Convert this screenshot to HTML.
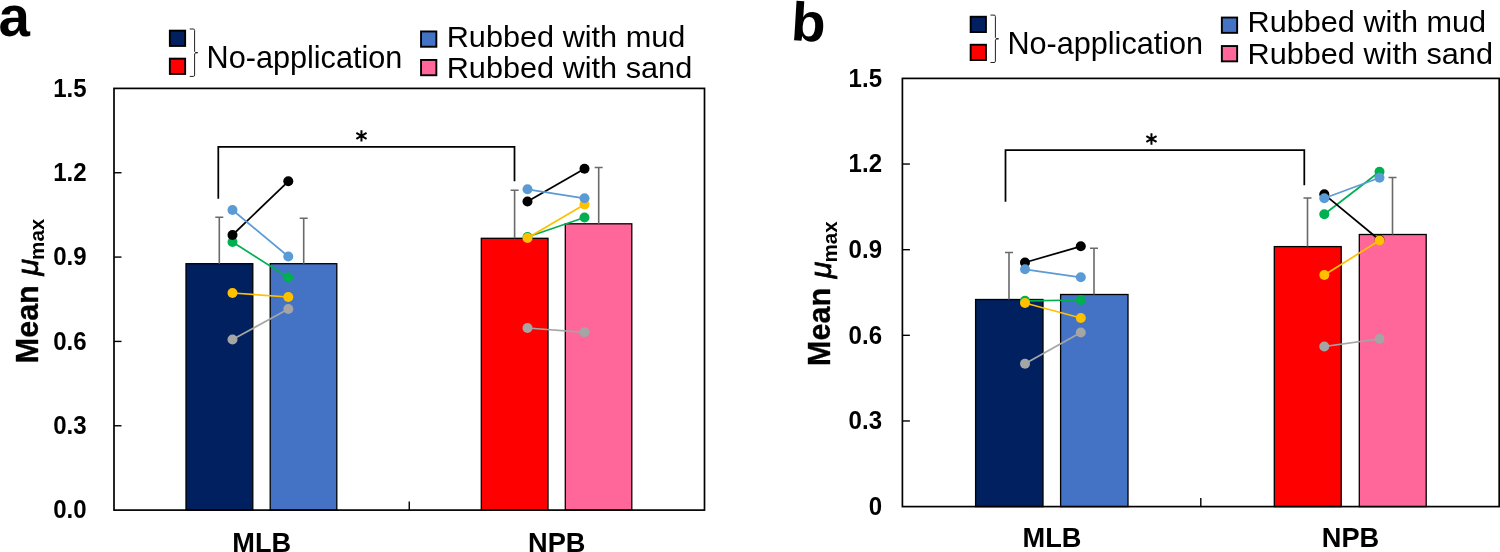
<!DOCTYPE html>
<html><head><meta charset="utf-8"><title>Figure</title>
<style>
html,body{margin:0;padding:0;background:#fff;}
body{width:1500px;height:552px;overflow:hidden;}
svg{display:block;will-change:transform;}
text{font-family:"Liberation Sans",sans-serif;fill:#000;}
.tk{font-size:24.9px;font-weight:bold;}
.xl{font-size:27.2px;font-weight:bold;}
.lg{font-size:29.3px;}
.lgn{font-size:31px;}
.tt{font-size:30.3px;font-weight:bold;}
.mu{font-style:italic;font-weight:normal;stroke:#000;stroke-width:0.75px;}
.sub{font-size:20.6px;}
.pl{font-size:56px;font-weight:bold;}
.ast{font-size:27px;font-weight:bold;}
</style></head>
<body>
<svg width="1500" height="552" viewBox="0 0 1500 552">
<rect x="0" y="0" width="1500" height="552" fill="#fff"/>
<g id="panel-a">
<rect x="186" y="263.7" width="66.80" height="246.40" fill="#002060" stroke="#000" stroke-width="1.3"/>
<rect x="270.2" y="263.7" width="66.60" height="246.40" fill="#4472C4" stroke="#000" stroke-width="1.3"/>
<rect x="481.3" y="238.3" width="66.70" height="271.80" fill="#FF0000" stroke="#000" stroke-width="1.3"/>
<rect x="565.3" y="223.8" width="66.50" height="286.30" fill="#FF6699" stroke="#000" stroke-width="1.3"/>
<path d="M219.3 263.7V217.3M215.30 217.3H223.30" stroke="#6a6a6a" stroke-width="1.6" fill="none"/>
<path d="M303.7 263.7V218.3M299.70 218.3H307.70" stroke="#6a6a6a" stroke-width="1.6" fill="none"/>
<path d="M514.6 238.3V190.3M510.60 190.3H518.60" stroke="#6a6a6a" stroke-width="1.6" fill="none"/>
<path d="M598.7 223.8V167.5M594.70 167.5H602.70" stroke="#6a6a6a" stroke-width="1.6" fill="none"/>
<rect x="114" y="88.4" width="590.50" height="421.70" fill="none" stroke="#000" stroke-width="1.7"/>
<path d="M114 425.76h7.5" stroke="#000" stroke-width="1.4"/>
<path d="M114 341.42h7.5" stroke="#000" stroke-width="1.4"/>
<path d="M114 257.08h7.5" stroke="#000" stroke-width="1.4"/>
<path d="M114 172.74h7.5" stroke="#000" stroke-width="1.4"/>
<path d="M409.25 510.1v-8.5" stroke="#000" stroke-width="1.4"/>
<text transform="translate(86.6 518.4) scale(0.965 1)" text-anchor="end" class="tk">0.0</text>
<text transform="translate(86.6 434.06) scale(0.965 1)" text-anchor="end" class="tk">0.3</text>
<text transform="translate(86.6 349.72) scale(0.965 1)" text-anchor="end" class="tk">0.6</text>
<text transform="translate(86.6 265.38) scale(0.965 1)" text-anchor="end" class="tk">0.9</text>
<text transform="translate(86.6 181.04) scale(0.965 1)" text-anchor="end" class="tk">1.2</text>
<text transform="translate(86.6 96.7) scale(0.965 1)" text-anchor="end" class="tk">1.5</text>
<text transform="translate(261.8 551.6) scale(1.0 1)" text-anchor="middle" class="xl">MLB</text>
<text transform="translate(556.8 551.6) scale(1.0 1)" text-anchor="middle" class="xl">NPB</text>
<path d="M218.3 198.7V146.8H514.5V181.2" stroke="#000" stroke-width="1.75" fill="none"/>
<path transform="translate(361.45 135.9)" d="M0 -5.7V5.7M-5.1 -2.95L5.1 2.95M-5.1 2.95L5.1 -2.95" stroke="#000" stroke-width="2" fill="none"/>
<path d="M232.5 339.5L288.3 309" stroke="#A5A5A5" stroke-width="1.75" fill="none"/>
<circle cx="232.5" cy="339.5" r="5" fill="#A5A5A5"/><circle cx="288.3" cy="309" r="5" fill="#A5A5A5"/>
<path d="M527.5 328L584.5 332.3" stroke="#A5A5A5" stroke-width="1.75" fill="none"/>
<circle cx="527.5" cy="328" r="5" fill="#A5A5A5"/><circle cx="584.5" cy="332.3" r="5" fill="#A5A5A5"/>
<path d="M232.5 242L288.3 277.5" stroke="#00B050" stroke-width="1.75" fill="none"/>
<circle cx="232.5" cy="242" r="5" fill="#00B050"/><circle cx="288.3" cy="277.5" r="5" fill="#00B050"/>
<path d="M527.5 237L584.5 217.5" stroke="#00B050" stroke-width="1.75" fill="none"/>
<circle cx="527.5" cy="237" r="5" fill="#00B050"/><circle cx="584.5" cy="217.5" r="5" fill="#00B050"/>
<path d="M232.5 235L288.3 181.3" stroke="#000" stroke-width="1.75" fill="none"/>
<circle cx="232.5" cy="235" r="5" fill="#000"/><circle cx="288.3" cy="181.3" r="5" fill="#000"/>
<path d="M527.5 201.5L584.5 168.8" stroke="#000" stroke-width="1.75" fill="none"/>
<circle cx="527.5" cy="201.5" r="5" fill="#000"/><circle cx="584.5" cy="168.8" r="5" fill="#000"/>
<path d="M232.5 293L288.3 297" stroke="#FFC000" stroke-width="1.75" fill="none"/>
<circle cx="232.5" cy="293" r="5" fill="#FFC000"/><circle cx="288.3" cy="297" r="5" fill="#FFC000"/>
<path d="M527.5 238L584.5 204.5" stroke="#FFC000" stroke-width="1.75" fill="none"/>
<circle cx="527.5" cy="238" r="5" fill="#FFC000"/><circle cx="584.5" cy="204.5" r="5" fill="#FFC000"/>
<path d="M232.5 210L288.3 256.5" stroke="#5B9BD5" stroke-width="1.75" fill="none"/>
<circle cx="232.5" cy="210" r="5" fill="#5B9BD5"/><circle cx="288.3" cy="256.5" r="5" fill="#5B9BD5"/>
<path d="M527.5 189.3L584.5 198.3" stroke="#5B9BD5" stroke-width="1.75" fill="none"/>
<circle cx="527.5" cy="189.3" r="5" fill="#5B9BD5"/><circle cx="584.5" cy="198.3" r="5" fill="#5B9BD5"/>
<rect x="169.85" y="30.65" width="15.3" height="15.3" fill="#002060" stroke="#000" stroke-width="1.9"/>
<rect x="169.85" y="58.65" width="15.3" height="15.3" fill="#FF0000" stroke="#000" stroke-width="1.9"/>
<path d="M189.70 29.00h3.6q1.3 0 1.3 1.3v21.2q0 1.2 3.2 1.2q-3.2 0 -3.2 1.2v21.2q0 1.3 -1.3 1.3h-3.6" stroke="#222" stroke-width="1" fill="none"/>
<text transform="translate(206.6 68.2) scale(0.988 1)" text-anchor="start" class="lgn">No-application</text>
<rect x="421.05" y="31.45" width="15.3" height="15.3" fill="#4472C4" stroke="#000" stroke-width="1.9"/>
<rect x="421.05" y="59.95" width="15.3" height="15.3" fill="#FF6699" stroke="#000" stroke-width="1.9"/>
<text transform="translate(446.7 46.7) scale(1.047 1)" text-anchor="start" class="lg">Rubbed with mud</text>
<text transform="translate(446.7 78.0) scale(1.047 1)" text-anchor="start" class="lg">Rubbed with sand</text>
<text transform="translate(38.0 363.2) rotate(-90) scale(0.965 1)" class="tt" style="font-size:31.6px;stroke:#000;stroke-width:0.35px">Mean</text>
<text transform="translate(38.30 275.50) rotate(-90)" class="tt"><tspan class="mu">μ</tspan><tspan class="sub" dy="6.1" dx="-1.0">max</tspan></text>
<text transform="translate(-1.6 36.2)" class="pl" style="font-size:56.5px">a</text>
</g>
<g id="panel-b">
<rect x="975.6" y="299.5" width="67.40" height="207.10" fill="#002060" stroke="#000" stroke-width="1.3"/>
<rect x="1060.6" y="294.5" width="67.40" height="212.10" fill="#4472C4" stroke="#000" stroke-width="1.3"/>
<rect x="1274.3" y="246.6" width="66.90" height="260.00" fill="#FF0000" stroke="#000" stroke-width="1.3"/>
<rect x="1359.3" y="234.5" width="66.90" height="272.10" fill="#FF6699" stroke="#000" stroke-width="1.3"/>
<path d="M1009 299.5V252.5M1005.00 252.5H1013.00" stroke="#6a6a6a" stroke-width="1.6" fill="none"/>
<path d="M1094 294.5V248.3M1090.00 248.3H1098.00" stroke="#6a6a6a" stroke-width="1.6" fill="none"/>
<path d="M1307.5 246.6V198M1303.50 198H1311.50" stroke="#6a6a6a" stroke-width="1.6" fill="none"/>
<path d="M1392.5 234.5V177.5M1388.50 177.5H1396.50" stroke="#6a6a6a" stroke-width="1.6" fill="none"/>
<rect x="902.4" y="78.4" width="596.80" height="428.20" fill="none" stroke="#000" stroke-width="1.7"/>
<path d="M902.4 420.96h7.5" stroke="#000" stroke-width="1.4"/>
<path d="M902.4 335.32h7.5" stroke="#000" stroke-width="1.4"/>
<path d="M902.4 249.68h7.5" stroke="#000" stroke-width="1.4"/>
<path d="M902.4 164.04h7.5" stroke="#000" stroke-width="1.4"/>
<path d="M1200.80 506.6v-8.5" stroke="#000" stroke-width="1.4"/>
<text transform="translate(882 514.9) scale(0.965 1)" text-anchor="end" class="tk">0</text>
<text transform="translate(882 429.26) scale(0.965 1)" text-anchor="end" class="tk">0.3</text>
<text transform="translate(882 343.62) scale(0.965 1)" text-anchor="end" class="tk">0.6</text>
<text transform="translate(882 257.98) scale(0.965 1)" text-anchor="end" class="tk">0.9</text>
<text transform="translate(882 172.34) scale(0.965 1)" text-anchor="end" class="tk">1.2</text>
<text transform="translate(882 86.7) scale(0.965 1)" text-anchor="end" class="tk">1.5</text>
<text transform="translate(1052 547.4) scale(1.0 1)" text-anchor="middle" class="xl">MLB</text>
<text transform="translate(1350.5 547.4) scale(1.0 1)" text-anchor="middle" class="xl">NPB</text>
<path d="M1005.5 201.7V150.05H1304.3V185.3" stroke="#000" stroke-width="1.75" fill="none"/>
<path transform="translate(1151.45 139.0)" d="M0 -5.7V5.7M-5.1 -2.95L5.1 2.95M-5.1 2.95L5.1 -2.95" stroke="#000" stroke-width="2" fill="none"/>
<path d="M1025 363.8L1080.8 332.5" stroke="#A5A5A5" stroke-width="1.75" fill="none"/>
<circle cx="1025" cy="363.8" r="5" fill="#A5A5A5"/><circle cx="1080.8" cy="332.5" r="5" fill="#A5A5A5"/>
<path d="M1324.3 346.5L1379.5 338.8" stroke="#A5A5A5" stroke-width="1.75" fill="none"/>
<circle cx="1324.3" cy="346.5" r="5" fill="#A5A5A5"/><circle cx="1379.5" cy="338.8" r="5" fill="#A5A5A5"/>
<path d="M1025 300.8L1080.8 300" stroke="#00B050" stroke-width="1.75" fill="none"/>
<circle cx="1025" cy="300.8" r="5" fill="#00B050"/><circle cx="1080.8" cy="300" r="5" fill="#00B050"/>
<path d="M1324.3 214.3L1379.5 171.8" stroke="#00B050" stroke-width="1.75" fill="none"/>
<circle cx="1324.3" cy="214.3" r="5" fill="#00B050"/><circle cx="1379.5" cy="171.8" r="5" fill="#00B050"/>
<path d="M1025 262.5L1080.8 246.3" stroke="#000" stroke-width="1.75" fill="none"/>
<circle cx="1025" cy="262.5" r="5" fill="#000"/><circle cx="1080.8" cy="246.3" r="5" fill="#000"/>
<path d="M1324.3 194.3L1379.5 240" stroke="#000" stroke-width="1.75" fill="none"/>
<circle cx="1324.3" cy="194.3" r="5" fill="#000"/><circle cx="1379.5" cy="240" r="5" fill="#000"/>
<path d="M1025 303L1080.8 318" stroke="#FFC000" stroke-width="1.75" fill="none"/>
<circle cx="1025" cy="303" r="5" fill="#FFC000"/><circle cx="1080.8" cy="318" r="5" fill="#FFC000"/>
<path d="M1324.3 275L1379.5 240.5" stroke="#FFC000" stroke-width="1.75" fill="none"/>
<circle cx="1324.3" cy="275" r="5" fill="#FFC000"/><circle cx="1379.5" cy="240.5" r="5" fill="#FFC000"/>
<path d="M1025 269.3L1080.8 277.3" stroke="#5B9BD5" stroke-width="1.75" fill="none"/>
<circle cx="1025" cy="269.3" r="5" fill="#5B9BD5"/><circle cx="1080.8" cy="277.3" r="5" fill="#5B9BD5"/>
<path d="M1324.3 198.3L1379.5 177.8" stroke="#5B9BD5" stroke-width="1.75" fill="none"/>
<circle cx="1324.3" cy="198.3" r="5" fill="#5B9BD5"/><circle cx="1379.5" cy="177.8" r="5" fill="#5B9BD5"/>
<rect x="970.65" y="16.75" width="15.3" height="15.3" fill="#002060" stroke="#000" stroke-width="1.9"/>
<rect x="970.65" y="44.75" width="15.3" height="15.3" fill="#FF0000" stroke="#000" stroke-width="1.9"/>
<path d="M990.50 15.10h3.6q1.3 0 1.3 1.3v21.2q0 1.2 3.2 1.2q-3.2 0 -3.2 1.2v21.2q0 1.3 -1.3 1.3h-3.6" stroke="#222" stroke-width="1" fill="none"/>
<text transform="translate(1007.4 54.3) scale(0.988 1)" text-anchor="start" class="lgn">No-application</text>
<rect x="1221.85" y="17.55" width="15.3" height="15.3" fill="#4472C4" stroke="#000" stroke-width="1.9"/>
<rect x="1221.85" y="46.05" width="15.3" height="15.3" fill="#FF6699" stroke="#000" stroke-width="1.9"/>
<text transform="translate(1247.5 31.7) scale(1.047 1)" text-anchor="start" class="lg">Rubbed with mud</text>
<text transform="translate(1247.5 63.5) scale(1.047 1)" text-anchor="start" class="lg">Rubbed with sand</text>
<text transform="translate(830.3 365.9) rotate(-90) scale(0.965 1)" class="tt" style="font-size:31.6px;stroke:#000;stroke-width:0.35px">Mean</text>
<text transform="translate(830.60 278.20) rotate(-90)" class="tt"><tspan class="mu">μ</tspan><tspan class="sub" dy="6.1" dx="-1.0">max</tspan></text>
<text transform="translate(790.2 40.0) rotate(3.4) scale(1.035 1)" class="pl" style="font-size:54.5px">b</text>
</g>
</svg>
</body></html>
